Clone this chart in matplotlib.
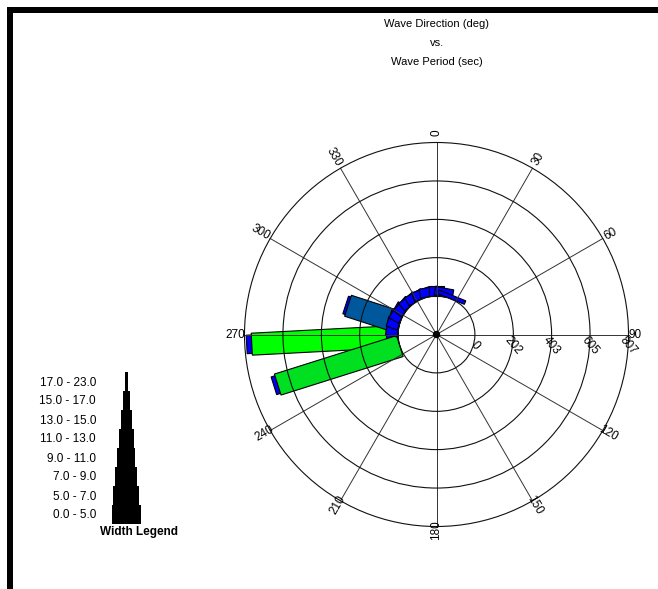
import numpy as np
import matplotlib.pyplot as plt
from matplotlib.patches import Polygon, Circle, Rectangle

# wave period classes (sec) shown in the width legend
period_labels = ["0.0 - 5.0", "5.0 - 7.0", "7.0 - 9.0", "9.0 - 11.0",
                 "11.0 - 13.0", "13.0 - 15.0", "15.0 - 17.0", "17.0 - 23.0"]

# one entry per bar: direction (deg), radial length, period class, colour group
bar_dir = [267, 267, 267,
           252.5, 252.5,
           288, 288,
           280, 290, 300, 310, 320, 330, 340, 350, 0, 10, 22]
bar_len = [797, 770, 61,
           694, 673,
           300, 287,
           62, 62, 58, 52, 50, 48, 48, 48, 52, 45, 20]
bar_cls = [3, 2, 3,
           3, 2,
           3, 2,
           3, 3, 3, 3, 3, 3, 3, 3, 4, 3, 0]
bar_grp = [0, 1, 0,
           0, 2,
           0, 3,
           0, 0, 0, 0, 0, 0, 0, 0, 0, 0, 0]

ring_values = [0, 202, 403, 605, 807]
spoke_angles = list(range(0, 360, 30))

group_colors = ["#0000ff", "#00ff00", "#00e020", "#00589c"]
class_width_px = [29, 25.5, 22, 18.5, 15, 11, 7, 3]

W, H = 658, 589
CX, CY = 436.5, 334.5          # rose centre, pixels from top-left
R_OUT = 192                    # outer ring radius in pixels
HOLE = ring_values[-1] / 4     # empty centre drawn as the "0" ring
upp = (HOLE + ring_values[-1]) / R_OUT   # data units per pixel
FONT = "Liberation Sans"

fig = plt.figure(figsize=(W / 100, H / 100), dpi=100)
fig.patch.set_facecolor("white")

# black frame along the top and left edges
fig.add_artist(Rectangle((7 / W, 0), 6 / W, (H - 7) / H, transform=fig.transFigure,
                         color="black", lw=0))
fig.add_artist(Rectangle((7 / W, (H - 13) / H), 1 - 7 / W, 6 / H,
                         transform=fig.transFigure, color="black", lw=0))

for i, line in enumerate(["Wave Direction (deg)", "vs.", "Wave Period (sec)"]):
    fig.text(437 / W, 1 - (24 + 19 * i) / H, line, ha="center", va="center",
             fontsize=8, family=FONT)

# ---- rose ----
S = 230
ax = fig.add_axes([(CX - S) / W, (H - CY - S) / H, 2 * S / W, 2 * S / H])
ax.set_xlim(-S * upp, S * upp)
ax.set_ylim(-S * upp, S * upp)
ax.set_aspect("equal")
ax.axis("off")


def bar_polygon(d, length, width):
    t = np.radians(d)
    u = np.array([np.sin(t), np.cos(t)])
    n = np.array([np.cos(t), -np.sin(t)])
    r0, r1 = HOLE, HOLE + length
    return [r0 * u + width / 2 * n, r1 * u + width / 2 * n,
            r1 * u - width / 2 * n, r0 * u - width / 2 * n]


for d, v, c, g in zip(bar_dir, bar_len, bar_cls, bar_grp):
    pts = bar_polygon(d, v, class_width_px[c] * upp)
    ax.add_patch(Polygon(pts, closed=True, facecolor=group_colors[g],
                         edgecolor="black", lw=0.8, zorder=2))

r_max = HOLE + ring_values[-1]
for a in spoke_angles:
    t = np.radians(a)
    ax.plot([0, r_max * np.sin(t)], [0, r_max * np.cos(t)], color="#333333",
            lw=0.7, zorder=3)
for v in ring_values:
    ax.add_patch(Circle((0, 0), HOLE + v, fill=False, edgecolor="#111111",
                        lw=0.8, zorder=3))
ax.add_patch(Circle((0, 0), 3 * upp, color="black", zorder=4))

# direction labels, written along the spokes
for a in spoke_angles:
    t = np.radians(a)
    lab = str(a)
    r = (199 + 5 * np.cos(t) + 2 * (len(lab) - 2)) * upp
    rot = 90 - a
    if rot > 90:
        rot -= 180
    if rot <= -90:
        rot += 180
    ax.text(r * np.sin(t), r * np.cos(t), lab, rotation=rot,
            rotation_mode="anchor", ha="center", va="center", fontsize=8.5,
            family=FONT)

for v in ring_values:
    ax.text(HOLE + v, -11 * upp, str(v), rotation=-50, rotation_mode="anchor",
            ha="center", va="center", fontsize=8.5, family=FONT)

# ---- width legend ----
LX, LY0, LY1 = 126, 360, 545
lax = fig.add_axes([(LX - 90) / W, (H - LY1) / H, 180 / W, (LY1 - LY0) / H])
lax.set_xlim(-90, 90)
lax.set_ylim(0, LY1 - LY0)
lax.axis("off")
step = 19
base = LY1 - 524
for i, (lab, w) in enumerate(zip(period_labels, class_width_px)):
    lax.barh(base + step * i, w, height=step, left=-w / 2, align="edge",
             color="black", lw=0)
    lax.text(-30, base + step * i + step / 2 - 1, lab, ha="right", va="center",
             fontsize=8.5, family=FONT)
lax.text(13.5, 13.3, "Width Legend", ha="center", va="center", fontsize=8.5,
         fontweight="bold", family=FONT)

fig.savefig("out.png", dpi=100)
